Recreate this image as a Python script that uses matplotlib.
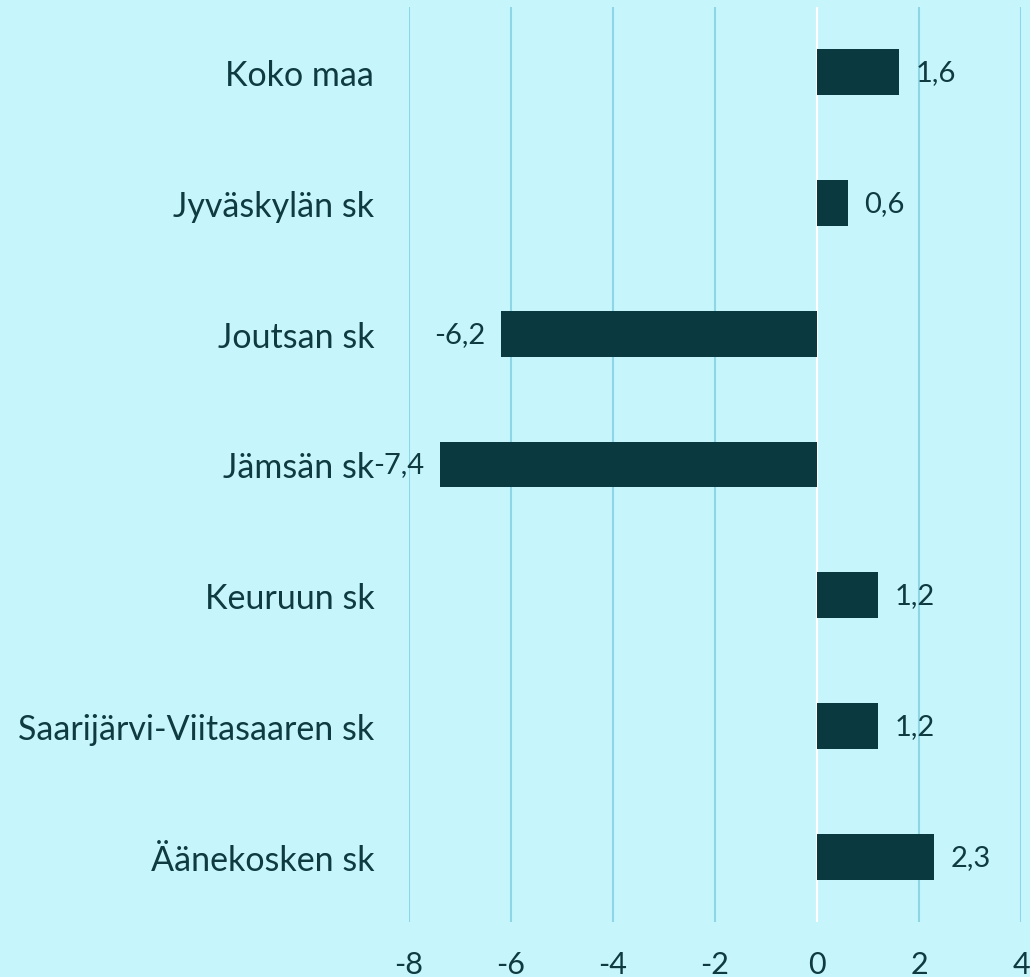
import numpy as np
import matplotlib.pyplot as plt

# Data
categories = ["Koko maa", "Jyväskylän sk", "Joutsan sk", "Jämsän sk",
              "Keuruun sk", "Saarijärvi-Viitasaaren sk", "Äänekosken sk"]
values = [1.6, 0.6, -6.2, -7.4, 1.2, 1.2, 2.3]
xticks = [-8, -6, -4, -2, 0, 2, 4]

bg = "#C6F6FC"
bar_col = "#0A393F"
txt_col = "#0E3A40"
grid_col = "#8ED6E6"

plt.rcParams['font.family'] = ['Lato', 'DejaVu Sans']

fig = plt.figure(figsize=(10.30, 9.78), dpi=100, facecolor=bg)
ax = fig.add_axes([409/1030, 55/978, 612/1030, 915/978])
ax.set_facecolor(bg)

y = np.arange(len(categories))
ax.barh(y, values, height=0.35, color=bar_col, zorder=3)

ax.set_xlim(-8, 4)
ax.set_ylim(len(categories) - 0.5, -0.5)
ax.set_xticks(xticks)
ax.set_xticklabels([str(t) for t in xticks], fontsize=22, color=txt_col)
ax.set_yticks(y)
ax.set_yticklabels(categories, fontsize=24.5, color=txt_col)
ax.tick_params(axis='both', length=0)
ax.tick_params(axis='y', pad=25)
ax.tick_params(axis='x', pad=20)

for t in xticks:
    if t == 0:
        ax.axvline(t, color="white", lw=1.5, zorder=2)
    else:
        ax.axvline(t, color=grid_col, lw=1.5, zorder=1)

for s in ax.spines.values():
    s.set_visible(False)

for yi, v in zip(y, values):
    lab = ("%.1f" % v).replace(".", ",")
    if v >= 0:
        ax.annotate(lab, (v, yi), xytext=(12, 0), textcoords="offset points",
                    ha="left", va="center", fontsize=21, color=txt_col)
    else:
        ax.annotate(lab, (v, yi), xytext=(-11, 0), textcoords="offset points",
                    ha="right", va="center", fontsize=21, color=txt_col)

fig.savefig("out.png", dpi=100, facecolor=bg)
